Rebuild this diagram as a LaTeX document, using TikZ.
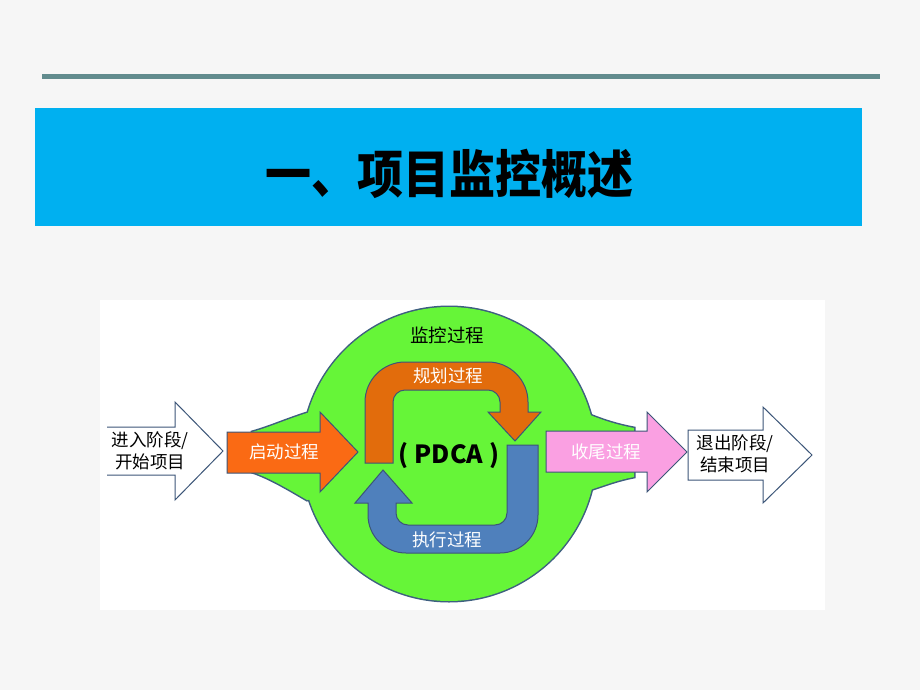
\documentclass[tikz,border=0pt]{standalone}
\usepackage{fontspec}
\setmainfont{Noto Sans CJK SC}
\newfontfamily\cjk{Noto Sans CJK SC}
\definecolor{bgc}{RGB}{246,246,246}
\definecolor{rulec}{RGB}{98,140,142}
\definecolor{titlec}{RGB}{0,176,240}
\definecolor{greenc}{RGB}{102,245,56}
\definecolor{edgec}{RGB}{62,95,128}
\definecolor{startc}{RGB}{250,106,20}
\definecolor{planc}{RGB}{226,108,12}
\definecolor{doc}{RGB}{79,128,188}
\definecolor{pinkc}{RGB}{250,160,226}
\definecolor{arrowedge}{RGB}{60,85,120}
\tikzset{
  shapeedge/.style={draw=arrowedge, line width=1pt, line join=miter},
  lbl/.style={font=\cjk\fontsize{17.5}{20}\selectfont, text=white, inner sep=0pt},
  blk/.style={font=\cjk\fontsize{17.5}{22}\selectfont, text=black, inner sep=0pt, align=center},
}
\begin{document}
\begin{tikzpicture}[x=1pt,y=-1pt]
\useasboundingbox (0,0) rectangle (920,690);
\fill[bgc] (0,0) rectangle (920,690);
% top rule and title band
\draw[rulec, line width=5pt] (42,77) -- (880,77);
\fill[titlec] (35,108) rectangle (862,226);
\node[font=\cjk\bfseries\fontsize{46}{50}\selectfont, text=black, inner sep=0pt, yscale=1.12] (title) at (449,174) {一、项目监控概述};
% diagram panel
\fill[white] (100,300) rectangle (825,610);
% green area: outline first, then fill
\path[draw=edgec, line width=3pt]
  (449,454) circle[radius=147pt];
\path[draw=edgec, line width=3pt]
  (320,412) -- (307,413) .. controls (285,420) and (270,427) .. (252,432) -- (252,472)
  .. controls (270,478) and (288,489) .. (307,500) -- (320,498) -- cycle;
\path[draw=edgec, line width=3pt]
  (578,415) -- (590,415) .. controls (605,421) and (618,425) .. (634,428) -- (634,477)
  .. controls (618,480) and (605,485) .. (590,490) -- (578,490) -- cycle;
\fill[greenc] (449,454) circle[radius=147pt];
\fill[greenc]
  (320,412) -- (307,413) .. controls (285,420) and (270,427) .. (252,432) -- (252,472)
  .. controls (270,478) and (288,489) .. (307,500) -- (320,498) -- cycle;
\fill[greenc]
  (578,415) -- (590,415) .. controls (605,421) and (618,425) .. (634,428) -- (634,477)
  .. controls (618,480) and (605,485) .. (590,490) -- (578,490) -- cycle;
% start arrow
\path[shapeedge, fill=startc]
  (227,432) -- (320,432) -- (320,412) -- (358,452) -- (320,492) -- (320,473) -- (227,473) -- cycle;
% closing arrow
\path[shapeedge, fill=pinkc]
  (546,431) -- (647,431) -- (647,412) -- (687,452) -- (647,492) -- (647,472) -- (546,472) -- cycle;
% planning U arrow
\path[shapeedge, fill=planc]
  (365,463) -- (365,402)
  .. controls (365,380) and (383,362) .. (405,362)
  -- (488,362)
  .. controls (510,362) and (528,380) .. (528,402)
  -- (528,412) -- (541,412) -- (515,441) -- (488,412) -- (500,412)
  -- (500,402)
  .. controls (500,395.4) and (494.6,390) .. (488,390)
  -- (405,390)
  .. controls (398.4,390) and (393,395.4) .. (393,402)
  -- (393,463) -- cycle;
% execution U arrow
\path[shapeedge, fill=doc]
  (507,445) -- (538,445) -- (538,515)
  .. controls (538,536) and (521,553) .. (500,553)
  -- (406,553)
  .. controls (385,553) and (368,536) .. (368,515)
  -- (368,503) -- (355,503) -- (383,470) -- (412,503) -- (396,503)
  -- (396,513)
  .. controls (396,519.6) and (401.4,525) .. (408,525)
  -- (495,525)
  .. controls (501.6,525) and (507,519.6) .. (507,513)
  -- cycle;
% entry white arrow (open at the left)
\fill[white] (107,427) -- (175,427) -- (175,402) -- (223,451) -- (175,500) -- (175,475) -- (107,475) -- cycle;
\draw[arrowedge, line width=1pt, line join=miter]
  (107,427) -- (175,427) -- (175,402) -- (223,451) -- (175,500) -- (175,475) -- (107,475);
% exit white arrow
\path[shapeedge, fill=white]
  (688,430) -- (763,430) -- (763,407) -- (812,455) -- (763,503) -- (763,480) -- (688,480) -- cycle;
% texts
\node[blk, font=\cjk\fontsize{18.5}{21}\selectfont] (mon) at (447,335) {监控过程};
\node[lbl] (plan) at (448,376) {规划过程};
\node[lbl] (exec) at (447,540) {执行过程};
\node[font=\cjk\bfseries\fontsize{25}{28}\selectfont, inner sep=0pt] (pdca) at (449,456) {( PDCA )};
\node[lbl] (start) at (284,452) {启动过程};
\node[lbl] (close) at (606,452) {收尾过程};
\node[blk] (enter) at (150,451) {进入阶段/\\开始项目};
\node[blk] (exit) at (735,454) {退出阶段/\\结束项目};
\end{tikzpicture}
\end{document}
